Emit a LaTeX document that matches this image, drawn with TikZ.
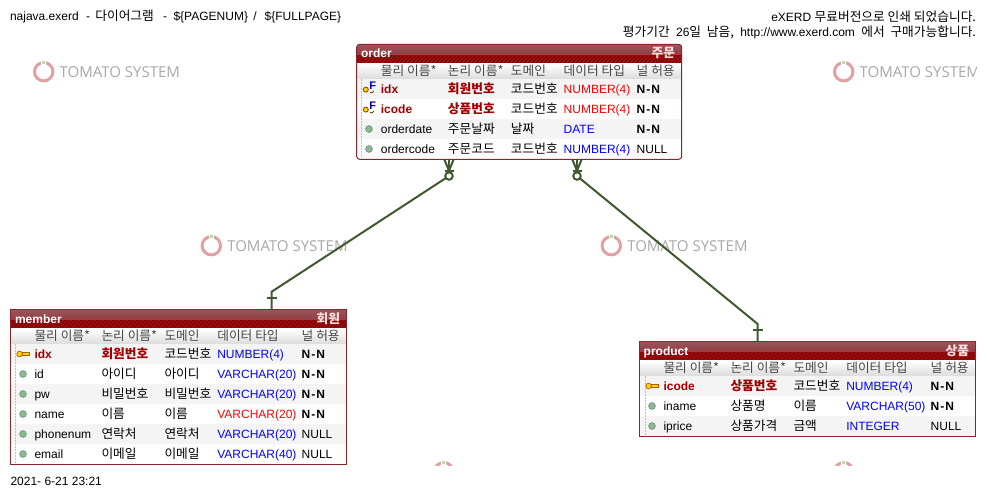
\documentclass[tikz,border=0pt]{standalone}
\usepackage{fontspec}
\setmainfont{Liberation Sans}
\newfontfamily\krfont{Noto Sans CJK KR}[Scale=1.06]
\newfontfamily\markfont{Open Sans}
\usetikzlibrary{positioning}
\definecolor{pkred}{HTML}{A00000}
\definecolor{borderred}{HTML}{8B2328}
\definecolor{titledark}{HTML}{8B0000}
\definecolor{titlestripe}{HTML}{9C1A1A}
\definecolor{titletop}{HTML}{B2666C}
\definecolor{titlemid}{HTML}{A8484F}
\definecolor{rowgray}{HTML}{F4F4F4}
\definecolor{linegreen}{HTML}{3F5A2F}
\definecolor{ringred}{HTML}{E3A0A0}
\definecolor{ringgreen}{HTML}{B5DDA5}
\definecolor{markgray}{HTML}{A9A9A9}
\definecolor{ballgreen}{HTML}{8DB790}
\definecolor{balledge}{HTML}{6F9C7A}
\newcommand{\kr}[1]{{\krfont #1}}
\newcommand{\pkn}[1]{\textcolor{pkred}{\bfseries #1}}
\newcommand{\pkk}[1]{\textcolor{pkred}{\bfseries\krfont #1}}
\newcommand{\red}[1]{\textcolor{red}{#1}}
\newcommand{\blu}[1]{\textcolor{blue}{#1}}
\newcommand{\nn}{\textbf{N\kern1pt-\kern1pt N}}
\begin{document}
\begin{tikzpicture}[x=1pt,y=-1pt,
    every node/.style={inner sep=0pt,outer sep=0pt,font=\fontsize{12}{14}\selectfont},
    celltext/.style={anchor=base west},
    headtext/.style={anchor=base west,text=black!72},
    titletext/.style={anchor=base west,text=white,font=\fontsize{12}{14}\selectfont\bfseries},
    titlekr/.style={anchor=base east,text=white!88!red,font=\fontsize{12}{14}\selectfont\bfseries\krfont},
    entitybox/.style={draw=borderred,line width=1pt,anchor=north west},
    relline/.style={draw=linegreen,line width=2pt},
    ringnode/.style={circle,draw=ringred,line width=3pt,minimum size=18.4pt},
    fkcircle/.style={circle,draw=linegreen,fill=white,line width=2pt,minimum size=7.5pt},
    colicon/.pic={\fill[ballgreen,draw=balledge,line width=.7pt] (0,0) circle (3.4);},
    pkicon/.pic={
        \fill[yellow!75!orange,draw=orange!70!black,line width=.7pt] (-1,-1.6) rectangle (6,1);
        \fill[yellow!75!orange,draw=orange!70!black,line width=.7pt] (-3.4,0) circle (2.8);
        \fill[orange!70!black] (3,1) rectangle (4.2,2.4);
    },
    fkicon/.pic={
        \fill[yellow!75!orange,draw=orange!60!black,line width=.9pt] (-3.2,.6) circle (2.5);
        \node[anchor=base,text=blue!70!black,font=\fontsize{11}{12}\selectfont\bfseries] at (3.8,.6) {F};
        \draw[orange!50!black,line width=.8pt] (1,3.6) -- (3.4,3.6) -- (5,1.8);
    }]

    \useasboundingbox (0,0) rectangle (987,498);
    \fill[white] (0,0) rectangle (987,498);

    % watermark
    \begin{scope}
        \clip (0,0) rectangle (976,465);
        \foreach \wx/\wy in {43.7/71.7,843.7/71.7,211.3/245.7,611.3/245.7,443.7/471.7,843.7/471.7} {
            \node[ringnode] (ring\wx-\wy) at (\wx,\wy) {};
            \fill[white] (\wx-2.5,\wy-12) rectangle (\wx+2.5,\wy-7);
            \fill[ringgreen] (\wx-1.7,\wy-11) rectangle (\wx+1.7,\wy-7.6);
            \node[anchor=base west,text=markgray,font=\fontsize{15}{18}\markfont] (mark\wx-\wy) at (\wx+16,\wy+6) {TOMATO SYSTEM};
        }
    \end{scope}

    \node[anchor=base west] (pagetitle) at (10,20) {najava.exerd\hspace{4pt} -\hspace{2pt} \kr{다이어그램}\hspace{6pt} -\hspace{3pt} \$\{PAGENUM\}\hspace{2pt} /\hspace{8pt}\$\{FULLPAGE\}};
    \node[anchor=base east] (noticeA) at (976,21.5) {eXERD \kr{무료버전으로 인쇄 되었습니다.}};
    \node[anchor=base east] (noticeB) at (976,36.7) {\kr{평가기간}\hspace{3pt} 26\kr{일\hspace{3pt} 남음,}\hspace{3pt} http://www.exerd.com\hspace{3pt} \kr{에서\hspace{3pt} 구매가능합니다.}};
    \node[anchor=base west] (printdate) at (10.5,485) {2021- 6-21 23:21};

    % left, top, right, bottom, corner
    \def\entityback#1#2#3#4#5{
        \begin{scope}
            \clip[rounded corners=#5pt] (#1,#2) rectangle (#3,#4);
            \fill[white] (#1,#2) rectangle (#3,#4);
            \fill[titledark] (#1,#2) rectangle (#3,#2+19);
            \foreach \s in {0,4,...,352}
                \draw[titlestripe,line width=.8pt] (#1+\s-19,#2+19) -- (#1+\s,#2);
            \fill[top color=titletop,bottom color=titlemid,fill opacity=.85] (#1,#2) rectangle (#3,#2+10);
            \fill[top color=white,bottom color=black!14] (#1,#2+19) rectangle (#3,#2+35);
        \end{scope}
    }

    % name, list of rows
    \def\entityrows#1#2{
        \foreach \y/\phys/\logi/\domn/\dtype/\nulls in {#2} {
            \node[celltext] (#1-\y-phys) at (\offset+24.2,\y+14.5) {\phys};
            \node[celltext] (#1-\y-logi) at (\offset+91.2,\y+14.5) {\logi};
            \node[celltext] (#1-\y-domn) at (\offset+154.2,\y+14.5) {\domn};
            \node[celltext] (#1-\y-type) at (\offset+207,\y+14.5) {\dtype};
            \node[celltext] (#1-\y-null) at (\offset+\nullcol,\y+14.5) {\nulls};
        }
    }

    % column heads
    \def\entityhead#1#2{
        \node[headtext] (#1-h1) at (\offset+24.2,#2+12.5) {\kr{물리 이름*}};
        \node[headtext] (#1-h2) at (\offset+91.2,#2+12.5) {\kr{논리 이름*}};
        \node[headtext] (#1-h3) at (\offset+154.2,#2+12.5) {\kr{도메인}};
        \node[headtext] (#1-h4) at (\offset+207,#2+12.5) {\kr{데이터 타입}};
        \node[headtext] (#1-h5) at (\offset+\nullcol,#2+12.5) {\kr{널 허용}};
    }

    % order
    \def\offset{356.7}
    \def\nullcol{280}
    \entityback{356.7}{44.3}{681.7}{159.3}{3}
    \foreach \y in {79,119}
        \fill[rowgray] (357,\y) rectangle (681,\y+20);
    \draw[black!25,dash pattern=on 1.5pt off 1.5pt] (361,79) -- (361,158);
    \node[titletext] (ordertitle) at (361,57.7) {order};
    \node[titlekr] (orderkr) at (675,57.7) {주문};
    \entityhead{order}{63}
    \entityrows{order}{
        79/\pkn{idx}/\pkk{회원번호}/\kr{코드번호}/\red{NUMBER(4)}/\nn,
        99/\pkn{icode}/\pkk{상품번호}/\kr{코드번호}/\red{NUMBER(4)}/\nn,
        119/orderdate/\kr{주문날짜}/\kr{날짜}/\blu{DATE}/\nn,
        139/ordercode/\kr{주문코드}/\kr{코드번호}/\blu{NUMBER(4)}/NULL}
    \foreach \y in {89,109}
        \pic at (369,\y) {fkicon};
    \foreach \y in {129,149}
        \pic at (369,\y) {colicon};
    \node[entitybox,rounded corners=3pt,minimum width=325pt,minimum height=115pt] (order) at (356.7,44.3) {};

    % member
    \def\offset{10.3}
    \def\nullcol{291.4}
    \entityback{10.3}{309.3}{346.7}{464.3}{0}
    \foreach \y in {344,384,424}
        \fill[rowgray] (11,\y) rectangle (346,\y+20);
    \draw[black!25,dash pattern=on 1.5pt off 1.5pt] (15.3,344) -- (15.3,463);
    \node[titletext] (membertitle) at (15,323) {member};
    \node[titlekr] (memberkr) at (340,323) {회원};
    \entityhead{member}{328}
    \entityrows{member}{
        344/\pkn{idx}/\pkk{회원번호}/\kr{코드번호}/\blu{NUMBER(4)}/\nn,
        364/id/\kr{아이디}/\kr{아이디}/\blu{VARCHAR(20)}/\nn,
        384/pw/\kr{비밀번호}/\kr{비밀번호}/\blu{VARCHAR(20)}/\nn,
        404/name/\kr{이름}/\kr{이름}/\red{VARCHAR(20)}/\nn,
        424/phonenum/\kr{연락처}/\kr{연락처}/\blu{VARCHAR(20)}/NULL,
        444/email/\kr{이메일}/\kr{이메일}/\blu{VARCHAR(40)}/NULL}
    \pic at (23,354) {pkicon};
    \foreach \y in {374,394,...,454}
        \pic at (23,\y) {colicon};
    \node[entitybox,minimum width=336.4pt,minimum height=155pt] (member) at (10.3,309.3) {};

    % product
    \def\offset{639.3}
    \def\nullcol{291.4}
    \entityback{639.3}{341.3}{975.7}{436.3}{0}
    \foreach \y in {376,416}
        \fill[rowgray] (640,\y) rectangle (975,\y+20);
    \draw[black!25,dash pattern=on 1.5pt off 1.5pt] (644.7,376) -- (644.7,435);
    \node[titletext] (producttitle) at (643.7,355) {product};
    \node[titlekr] (productkr) at (969,355) {상품};
    \entityhead{product}{360}
    \entityrows{product}{
        376/\pkn{icode}/\pkk{상품번호}/\kr{코드번호}/\blu{NUMBER(4)}/\nn,
        396/iname/\kr{상품명}/\kr{이름}/\blu{VARCHAR(50)}/\nn,
        416/iprice/\kr{상품가격}/\kr{금액}/\blu{INTEGER}/NULL}
    \pic at (652,386) {pkicon};
    \foreach \y in {406,426}
        \pic at (652,\y) {colicon};
    \node[entitybox,minimum width=336.4pt,minimum height=95pt] (product) at (639.3,341.3) {};

    % relations
    \coordinate (footA) at (449,159.8);
    \coordinate (footB) at (577,159.8);
    \coordinate (memberbend) at (271.7,291.7);
    \coordinate (memberbar) at (271.7,298);
    \coordinate (membertop) at (271.7,308.8);
    \coordinate (productbend) at (757.7,324);
    \coordinate (productbar) at (757.7,330);
    \coordinate (producttop) at (757.7,340.8);
    \node[fkcircle] (circA) at (449,176) {};
    \node[fkcircle] (circB) at (577,176) {};

    \draw[relline] (circA) -- (memberbend) -- (membertop);
    \draw[relline] (circB) -- (productbend) -- (producttop);
    \draw[relline] ([xshift=-5pt]memberbar) -- ([xshift=5pt]memberbar);
    \draw[relline] ([xshift=-5pt]productbar) -- ([xshift=5pt]productbar);
    \foreach \foot/\circ in {footA/circA,footB/circB} {
        \draw[relline] (\foot) -- (\circ);
        \draw[relline] ([xshift=-4.5pt]\foot) -- ([yshift=-11pt]\foot) -- ([xshift=4.5pt]\foot);
        \draw[relline] ([xshift=-4.5pt,yshift=-11pt]\foot) -- ([xshift=4.5pt,yshift=-11pt]\foot);
    }

\end{tikzpicture}
\end{document}
